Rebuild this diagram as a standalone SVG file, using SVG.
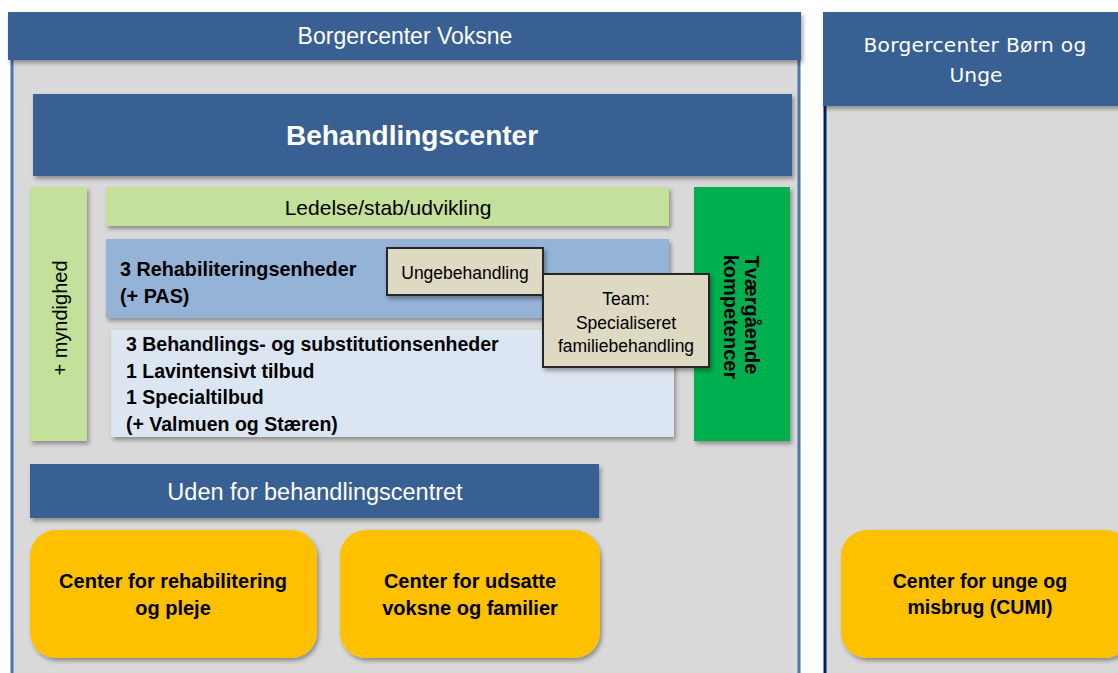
<svg xmlns="http://www.w3.org/2000/svg" width="1118" height="673" viewBox="0 0 1118 673">
<defs>
<filter id="sh" x="-10%" y="-10%" width="120%" height="130%">
<feDropShadow dx="2" dy="3" stdDeviation="2" flood-color="#000" flood-opacity="0.35"/>
</filter>
<style>
.hdr{fill:#376092}
.wt{fill:#fff;font-family:"Liberation Sans",Arial,sans-serif;text-anchor:middle}
.bk{fill:#000;font-family:"Liberation Sans",Arial,sans-serif}
.bold{font-weight:bold}
.mid{text-anchor:middle}
.yel{fill:#ffc000}
.tan{fill:#ddd9c3;stroke:#262626;stroke-width:2}
</style>
</defs>
<rect width="1118" height="673" fill="#fff"/>

<g id="panel-voksne">
<rect x="12" y="55" width="787" height="625" fill="#d9d9d9" stroke="#4f74a8" stroke-width="3"/>
<rect class="hdr" x="8" y="12" width="793" height="48" filter="url(#sh)"/>
<text class="wt" x="405" y="44" font-size="23">Borgercenter Voksne</text>
</g>

<g id="panel-born">
<rect x="825" y="100" width="300" height="580" fill="#d9d9d9"/>
<line x1="825" y1="106" x2="825" y2="673" stroke="#002060" stroke-width="3"/>
<rect class="hdr" x="823" y="12" width="300" height="94" filter="url(#sh)"/>
<text x="975" y="52" font-size="20.2" fill="#fff" font-family="'DejaVu Sans',Verdana,sans-serif" text-anchor="middle" letter-spacing="0.3">Borgercenter Børn og</text>
<text x="976" y="82" font-size="20.2" fill="#fff" font-family="'DejaVu Sans',Verdana,sans-serif" text-anchor="middle">Unge</text>
</g>

<g id="behandlingscenter">
<rect class="hdr" x="33" y="94" width="759" height="82" filter="url(#sh)"/>
<text class="wt bold" x="412" y="145" font-size="28">Behandlingscenter</text>
</g>

<g id="myndighed">
<rect x="30" y="187" width="57" height="254" fill="#c3e19a" filter="url(#sh)"/>
<text class="bk mid" transform="translate(60 318) rotate(-90)" font-size="20" dominant-baseline="central">+ myndighed</text>
</g>

<g id="ledelse">
<rect x="106" y="187" width="563" height="39" fill="#c3e19a" filter="url(#sh)"/>
<text class="bk mid" x="388" y="215" font-size="21">Ledelse/stab/udvikling</text>
</g>

<g id="rehab">
<rect x="106" y="239" width="563" height="79" fill="#95b3d7" filter="url(#sh)"/>
<text class="bk bold" x="120" y="276" font-size="19.8">3 Rehabiliteringsenheder</text>
<text class="bk bold" x="120" y="303" font-size="19.8">(+ PAS)</text>
</g>

<g id="behandling">
<rect x="111" y="330" width="563" height="107" fill="#dce6f2" filter="url(#sh)"/>
<text class="bk bold" x="126" y="351" font-size="19.5">3 Behandlings- og substitutionsenheder</text>
<text class="bk bold" x="126" y="378" font-size="19.5">1 Lavintensivt tilbud</text>
<text class="bk bold" x="126" y="404" font-size="19.5">1 Specialtilbud</text>
<text class="bk bold" x="126" y="431" font-size="19.5">(+ Valmuen og Stæren)</text>
</g>

<g id="tvaergaende">
<rect x="694" y="187" width="96" height="254" fill="#00b050" filter="url(#sh)"/>
<text class="bk bold mid" transform="translate(752 315) rotate(90)" font-size="20" dominant-baseline="central">Tværgående</text>
<text class="bk bold mid" transform="translate(731 317) rotate(90)" font-size="20" dominant-baseline="central">kompetencer</text>
</g>

<g id="ungebehandling">
<rect class="tan" x="387" y="248" width="156" height="47" filter="url(#sh)"/>
<text class="bk mid" x="465" y="279" font-size="17.5">Ungebehandling</text>
</g>

<g id="team">
<rect class="tan" x="543" y="274" width="166" height="93" filter="url(#sh)"/>
<text class="bk mid" x="626" y="305" font-size="17.5">Team:</text>
<text class="bk mid" x="626" y="329" font-size="17.5">Specialiseret</text>
<text class="bk mid" x="626" y="352" font-size="17.5">familiebehandling</text>
</g>

<g id="uden-for">
<rect class="hdr" x="30" y="464" width="569" height="54" filter="url(#sh)"/>
<text class="wt" x="315" y="500" font-size="23.5">Uden for behandlingscentret</text>
</g>

<g id="rehab-pleje">
<rect class="yel" x="30" y="530" width="287" height="128" rx="26" filter="url(#sh)"/>
<text class="bk bold mid" x="173" y="588" font-size="20">Center for rehabilitering</text>
<text class="bk bold mid" x="173" y="615" font-size="20">og pleje</text>
</g>

<g id="udsatte">
<rect class="yel" x="340" y="530" width="260" height="128" rx="26" filter="url(#sh)"/>
<text class="bk bold mid" x="470" y="588" font-size="20">Center for udsatte</text>
<text class="bk bold mid" x="470" y="615" font-size="20">voksne og familier</text>
</g>

<g id="cumi">
<rect class="yel" x="841" y="530" width="290" height="128" rx="26" filter="url(#sh)"/>
<text class="bk bold mid" x="980" y="588" font-size="19.5">Center for unge og</text>
<text class="bk bold mid" x="980" y="614" font-size="19.5">misbrug (CUMI)</text>
</g>

<g id="connectors"></g>
</svg>
